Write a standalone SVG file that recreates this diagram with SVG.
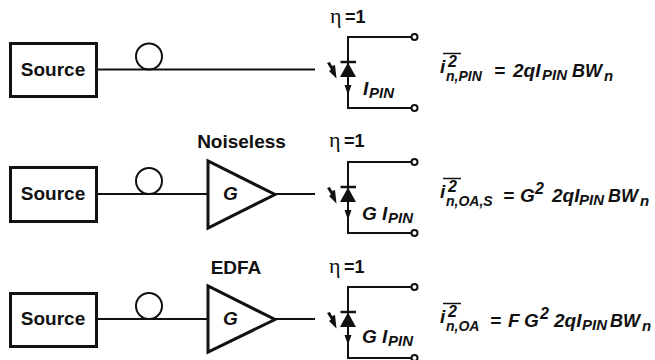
<svg xmlns="http://www.w3.org/2000/svg" width="655" height="360" viewBox="0 0 655 360">
<defs>
<style>
text{font-family:"Liberation Sans",Arial,sans-serif;font-weight:bold;fill:#111}
.l{font-size:19px}
.g{font-size:19px;font-style:italic}
.e{font-size:19px;font-style:italic}
.b{font-size:18px;font-style:italic}
.s{font-size:15px;font-style:italic}
.t{font-size:14px;font-style:italic}
.sup{font-size:16px;font-style:italic}
.n{font-size:18px}
.h{font-family:"Liberation Serif",serif;font-weight:normal;font-size:22px}
.w{fill:none;stroke:#111;stroke-width:2}
.box{fill:#fff;stroke:#111;stroke-width:3}
.amp{fill:#fff;stroke:#111;stroke-width:3;stroke-linejoin:miter}
.bar{stroke:#111;stroke-width:1.500;fill:none}
</style>
<g id="det">
<path class="w" d="M412 0H348V71H412"/>
<circle cx="414.500" cy="0" r="3" fill="#fff" stroke="#111" stroke-width="2"/>
<circle cx="414.500" cy="71" r="3" fill="#fff" stroke="#111" stroke-width="2"/>
<path d="M340 40 L356 40 L348 25.500 Z" fill="#111"/>
<path d="M340.500 25 H356" stroke="#111" stroke-width="2.500"/>
<path d="M344.500 48 H351.500 L348 58 Z" fill="#111"/>
<path d="M327 26 L330 25 L332 29 L335 28 L336.500 41.500 L329 34 L331 32.500 Z" fill="#111"/>
</g>
</defs>
<rect width="655" height="360" fill="#fff"/>
<g id="connectors">
<path class="w" d="M96 69.500H315"/>
<path class="w" d="M96 194H208M275 194H315"/>
<path class="w" d="M96 319H208M275 319H315"/>
<circle class="w" cx="149" cy="56.500" r="13"/>
<circle class="w" cx="149" cy="181" r="13"/>
<circle class="w" cx="149" cy="306" r="13"/>
</g>
<g id="source1"><rect class="box" x="10.500" y="43.500" width="86" height="53"/><text class="l" x="53" y="75.500" text-anchor="middle">Source</text></g>
<g id="source2"><rect class="box" x="10.500" y="167.500" width="86" height="54"/><text class="l" x="53" y="199.500" text-anchor="middle">Source</text></g>
<g id="source3"><rect class="box" x="10.500" y="293.500" width="86" height="53"/><text class="l" x="53" y="325" text-anchor="middle">Source</text></g>
<g id="amp1"><path class="amp" d="M208 161V228L275 194.500Z"/><text class="g" x="223" y="199.500">G</text><text class="l" x="241.500" y="148" text-anchor="middle">Noiseless</text></g>
<g id="amp2"><path class="amp" d="M208 286V352L275 319.500Z"/><text class="g" x="223" y="325">G</text><text class="l" x="236" y="273.500" text-anchor="middle">EDFA</text></g>
<g id="det1"><use href="#det" y="37"/><text class="h" x="330" y="23">η</text><text class="n" x="345" y="23">=1</text><text class="e" x="363" y="95">I</text><text class="s" x="369" y="98">PIN</text></g>
<g id="det2"><use href="#det" y="162"/><text class="h" x="329" y="147">η</text><text class="n" x="344" y="147">=1</text><text class="e" x="362" y="220">G I</text><text class="s" x="388" y="223">PIN</text></g>
<g id="det3"><use href="#det" y="287"/><text class="h" x="329" y="273">η</text><text class="n" x="344" y="273">=1</text><text class="e" x="362" y="343">G I</text><text class="s" x="388" y="346">PIN</text></g>
<g id="eq1">
<path class="bar" d="M443 53.500H461"/>
<text class="e" x="440" y="73">i</text><text class="sup" x="448" y="67">2</text><text class="t" x="446" y="81">n,PIN</text>
<text class="e" x="494" y="77">=</text><text class="e" x="513" y="77">2qI</text><text class="s" x="542" y="80">PIN</text><text class="b" x="572" y="77">BW</text><text class="s" x="604" y="81">n</text>
</g>
<g id="eq2">
<path class="bar" d="M443 178.500H461"/>
<text class="e" x="440" y="198">i</text><text class="sup" x="448" y="192">2</text><text class="t" x="446" y="206">n,OA,S</text>
<text class="e" x="503" y="202">=</text><text class="e" x="520" y="202">G</text><text class="sup" x="535" y="194">2</text><text class="e" x="552" y="202">2qI</text><text class="s" x="579" y="205">PIN</text><text class="b" x="608" y="202">BW</text><text class="s" x="640" y="206">n</text>
</g>
<g id="eq3">
<path class="bar" d="M443 303.500H461"/>
<text class="e" x="440" y="323">i</text><text class="sup" x="448" y="317">2</text><text class="t" x="446" y="331">n,OA</text>
<text class="e" x="490" y="327">=</text><text class="e" x="508" y="327">F</text><text class="e" x="524" y="327">G</text><text class="sup" x="540" y="319">2</text><text class="e" x="554" y="327">2qI</text><text class="s" x="582" y="330">PIN</text><text class="b" x="610" y="327">BW</text><text class="s" x="642" y="331">n</text>
</g>
</svg>
